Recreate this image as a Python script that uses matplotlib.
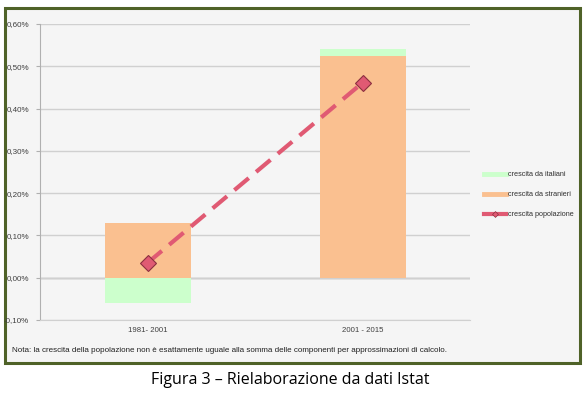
import matplotlib.pyplot as plt
from matplotlib.patches import Rectangle
from matplotlib.lines import Line2D
from matplotlib.ticker import FuncFormatter

# dati (valori in %)
periodi = ["1981- 2001", "2001 - 2015"]
stranieri = [0.13, 0.525]
italiani = [-0.06, 0.015]
popolazione = [0.035, 0.461]

narrow = ["Liberation Sans", "DejaVu Sans"]

fig = plt.figure(figsize=(5.86, 3.96), dpi=100, facecolor="white")

# riquadro con bordo verde
box = Rectangle((5 / 586, 1 - 363 / 396), 575 / 586, 355 / 396, transform=fig.transFigure,
                facecolor="#f5f5f5", edgecolor="#4f6228", linewidth=2.2, zorder=-5)
fig.patches.append(box)

ax = fig.add_axes([40 / 586, 1 - 320 / 396, 430 / 586, 296 / 396])
ax.set_facecolor("none")
ax.set_zorder(2)

x = list(range(len(periodi)))
ax.bar(x, stranieri, width=0.4, color="#fac090", zorder=2)
# italiani: sotto lo zero se negativi, sopra gli stranieri se positivi
bottoms = [s if v > 0 else 0 for s, v in zip(stranieri, italiani)]
ax.bar(x, italiani, width=0.4, bottom=bottoms, color="#ccffcc", zorder=2)

ax.plot(x, popolazione, color="#e05a73", linewidth=3, dashes=(4.5, 2.3),
        marker="D", markersize=8, markerfacecolor="#e05a73",
        markeredgecolor="#8b3040", markeredgewidth=0.8, zorder=3)

ax.set_xlim(-0.5, 1.5)
ax.set_ylim(-0.1, 0.6)
ax.set_yticks([-0.1, 0, 0.1, 0.2, 0.3, 0.4, 0.5, 0.6])
ax.yaxis.set_major_formatter(FuncFormatter(lambda v, p: ("%.2f%%" % v).replace(".", ",")))
ax.set_xticks(x)
ax.set_xticklabels(periodi)
ax.grid(axis="y", color="#d0d0d0", linewidth=1, zorder=1)
ax.axhline(0, color="#a0a0a0", linewidth=1, zorder=1)
for s in ["top", "right"]:
    ax.spines[s].set_visible(False)
ax.spines["left"].set_color("#b0b0b0")
ax.spines["bottom"].set_color("#d0d0d0")
ax.tick_params(axis="y", length=3, color="#b0b0b0", labelsize=5.8, labelcolor="#404040", pad=5)
ax.tick_params(axis="x", length=0, labelsize=5.6, labelcolor="#404040", pad=5)
for t in ax.get_xticklabels() + ax.get_yticklabels():
    t.set_family(narrow)

handles = [
    Line2D([], [], color="#ccffcc", linewidth=3.5),
    Line2D([], [], color="#fac090", linewidth=3.5),
    Line2D([], [], color="#e05a73", linewidth=3, marker="D", markersize=3,
           markerfacecolor="#e05a73", markeredgecolor="#8b3040", markeredgewidth=0.5),
]
labels = ["crescita da italiani", "crescita da stranieri", "crescita popolazione"]
leg = fig.legend(handles, labels, loc="upper left", bbox_to_anchor=(484 / 586, 1 - 171 / 396),
                 frameon=False, prop={"family": narrow, "size": 5.2}, handlelength=3.0,
                 handletextpad=0.3, labelspacing=1.8, labelcolor="#303030",
                 borderaxespad=0, borderpad=0)

fig.text(12 / 586, 1 - 350 / 396,
         "Nota: la crescita della popolazione non è esattamente uguale alla somma delle componenti per approssimazioni di calcolo.",
         family=narrow, fontsize=5.75, color="#202020", va="center")

fig.text(290 / 586, 1 - 380 / 396, "Figura 3 – Rielaborazione da dati Istat",
         family=["Open Sans", "DejaVu Sans"], fontsize=11.5, color="black", ha="center", va="center")

fig.savefig("out.png", dpi=100)
